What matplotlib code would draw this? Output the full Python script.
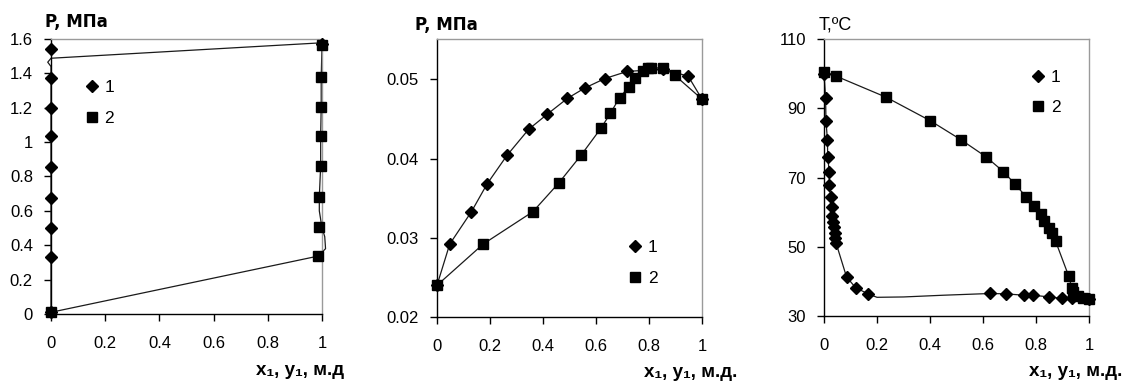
import matplotlib
matplotlib.use("Agg")
import matplotlib.pyplot as plt
from matplotlib.ticker import FormatStrFormatter, FuncFormatter

plt.rcParams['font.family'] = ['Liberation Sans', 'DejaVu Sans']
plt.rcParams['font.size'] = 12

# ---------------- Panel 1 (P, MPa vs x1,y1) ----------------
p1_s1_x = [0, 0, 0, 0, 0, 0, 0, 0, 0, 1.0]
p1_s1_y = [0.01, 0.333, 0.503, 0.677, 0.858, 1.033, 1.201, 1.372, 1.542, 1.572]
p1_s2_x = [0, 0.986, 0.99, 0.99, 0.995, 0.995, 0.995, 0.995, 1.0]
p1_s2_y = [0.01, 0.337, 0.508, 0.683, 0.861, 1.036, 1.206, 1.377, 1.565]
# smoothed curves as drawn
p1_c1_x = [0, 0, -0.012, 0.0, 1.0]
p1_c1_y = [0.01, 1.44, 1.465, 1.488, 1.578]
p1_c2_x = [0, 0.986, 1.013, 1.01, 1.0, 0.99, 0.99, 0.995, 0.995, 0.997, 0.997, 1.0]
p1_c2_y = [0.01, 0.337, 0.38, 0.45, 0.5, 0.6, 0.683, 0.861, 1.036, 1.206, 1.377, 1.565]

# ---------------- Panel 2 ----------------
p2_s1_x = [0, 0.048, 0.130, 0.189, 0.264, 0.346, 0.416, 0.492, 0.557, 0.633, 0.717, 0.854, 0.948, 1.0]
p2_s1_y = [0.0240, 0.0292, 0.0333, 0.0368, 0.0404, 0.0437, 0.0456, 0.0476, 0.0489, 0.0501, 0.0510, 0.0513, 0.0504, 0.0475]
p2_s2_x = [0, 0.174, 0.362, 0.459, 0.543, 0.618, 0.654, 0.689, 0.725, 0.747, 0.776, 0.795, 0.808, 0.853, 0.898, 1.0]
p2_s2_y = [0.0240, 0.0292, 0.0333, 0.0369, 0.0404, 0.0438, 0.0457, 0.0477, 0.0491, 0.0502, 0.0510, 0.0514, 0.0514, 0.0515, 0.0505, 0.0475]

# ---------------- Panel 3 ----------------
p3_s1_x = [0, 0.006, 0.0075, 0.013, 0.014, 0.02, 0.02, 0.025, 0.029, 0.032, 0.035, 0.037, 0.04, 0.042, 0.045,
           0.085, 0.119, 0.166, 0.627, 0.685, 0.755, 0.790, 0.850, 0.897, 0.935, 1.0]
p3_s1_y = [99.9, 93.0, 86.3, 80.8, 76.0, 71.5, 67.8, 64.5, 61.6, 58.9, 57.2, 55.6, 53.9, 52.6, 51.2,
           41.3, 38.2, 36.4, 36.5, 36.4, 36.0, 36.0, 35.5, 35.1, 35.1, 34.9]
p3_s2_x = [0, 0.045, 0.234, 0.401, 0.517, 0.611, 0.677, 0.722, 0.763, 0.792, 0.818, 0.830, 0.849, 0.862, 0.874,
           0.923, 0.935, 0.94, 0.958, 0.978, 1.0]
p3_s2_y = [100.6, 99.3, 93.2, 86.4, 80.9, 76.0, 71.7, 68.0, 64.4, 61.8, 59.4, 57.5, 55.5, 54.0, 51.6,
           41.6, 38.2, 36.8, 35.8, 35.2, 34.9]
p3_c1_x = [0, 0.006, 0.0075, 0.013, 0.014, 0.02, 0.02, 0.025, 0.029, 0.032, 0.035, 0.037, 0.04, 0.042, 0.045,
           0.085, 0.119, 0.166, 0.2, 0.3, 0.45, 0.627, 0.685, 0.755, 0.790, 0.850, 0.897, 0.935, 1.0]
p3_c1_y = [99.9, 93.0, 86.3, 80.8, 76.0, 71.5, 67.8, 64.5, 61.6, 58.9, 57.2, 55.6, 53.9, 52.6, 51.2,
           41.3, 38.2, 36.4, 35.4, 35.5, 36.0, 36.5, 36.4, 36.0, 36.0, 35.5, 35.1, 35.1, 34.9]

legend_labels = ['1', '2']

fig = plt.figure(figsize=(11.26, 3.81), dpi=100)
ax1 = fig.add_axes([0.04529, 0.17585, 0.2407, 0.7218])
ax2 = fig.add_axes([0.3881, 0.16798, 0.23535, 0.72966])
ax3 = fig.add_axes([0.73179, 0.1706, 0.23535, 0.72703])

LC = '#1a1a1a'
LW = 0.9
DMS = 5.9
SMS = 7.0
TITLE_FAM = ['DejaVu Sans']
XL_FAM = ['Liberation Sans', 'DejaVu Sans']
XL_SIZE = 13.5
LEG_KW = dict(loc='upper left', frameon=False, handlelength=0.8, handletextpad=0.35,
              labelspacing=0.9, borderpad=0, borderaxespad=0, fontsize=12.5)


def style(ax):
    for s in ['top', 'right']:
        ax.spines[s].set_color('#9a9a9a')
        ax.spines[s].set_linewidth(1.0)
    for s in ['left', 'bottom']:
        ax.spines[s].set_color('black')
        ax.spines[s].set_linewidth(1.0)
    ax.tick_params(axis='x', direction='out', length=5, width=1, pad=11, labelsize=12, colors='black')
    ax.tick_params(axis='y', direction='out', length=5, width=1, pad=8, labelsize=12, colors='black')


def fmt_g(v, pos):
    return ('%g' % round(v, 6))


# Panel 1
ax1.plot(p1_c1_x, p1_c1_y, color=LC, lw=LW, clip_on=False, zorder=2)
ax1.plot(p1_c2_x, p1_c2_y, color=LC, lw=LW, clip_on=False, zorder=2)
h1, = ax1.plot(p1_s1_x, p1_s1_y, ls='none', marker='D', ms=DMS, color='black', clip_on=False, zorder=3, label=legend_labels[0])
h2, = ax1.plot(p1_s2_x, p1_s2_y, ls='none', marker='s', ms=SMS, color='black', clip_on=False, zorder=3, label=legend_labels[1])
ax1.set_xlim(0, 1)
ax1.set_ylim(0, 1.6)
ax1.set_xticks([0, 0.2, 0.4, 0.6, 0.8, 1.0])
ax1.set_yticks([0, 0.2, 0.4, 0.6, 0.8, 1.0, 1.2, 1.4, 1.6])
ax1.xaxis.set_major_formatter(FuncFormatter(fmt_g))
ax1.yaxis.set_major_formatter(FuncFormatter(fmt_g))
style(ax1)
ax1.legend(handles=[h1, h2], bbox_to_anchor=(0.124, 0.85), **LEG_KW)
ax1.text(-0.022, 1.044, 'P, МПа', transform=ax1.transAxes, fontsize=12, fontweight='bold',
         family=TITLE_FAM, ha='left', va='baseline')
ax1.text(1.081, -0.222, 'x₁, y₁, м.д', transform=ax1.transAxes, fontsize=XL_SIZE, fontweight='bold',
         family=XL_FAM, ha='right', va='baseline')

# Panel 2
ax2.plot(p2_s1_x, p2_s1_y, color=LC, lw=LW, marker='D', ms=DMS, mfc='black', mec='black', clip_on=False, zorder=3)
ax2.plot(p2_s2_x, p2_s2_y, color=LC, lw=LW, marker='s', ms=SMS, mfc='black', mec='black', clip_on=False, zorder=3)
g1, = ax2.plot([], [], ls='none', marker='D', ms=DMS, color='black', label=legend_labels[0])
g2, = ax2.plot([], [], ls='none', marker='s', ms=SMS, color='black', label=legend_labels[1])
ax2.set_xlim(0, 1)
ax2.set_ylim(0.02, 0.0551)
ax2.set_xticks([0, 0.2, 0.4, 0.6, 0.8, 1.0])
ax2.set_yticks([0.02, 0.03, 0.04, 0.05])
ax2.xaxis.set_major_formatter(FuncFormatter(fmt_g))
ax2.yaxis.set_major_formatter(FormatStrFormatter('%.2f'))
style(ax2)
ax2.legend(handles=[g1, g2], bbox_to_anchor=(0.72, 0.276), **LEG_KW)
ax2.text(-0.083, 1.032, 'P, МПа', transform=ax2.transAxes, fontsize=12, fontweight='bold',
         family=TITLE_FAM, ha='left', va='baseline')
ax2.text(1.132, -0.216, 'x₁, y₁, м.д.', transform=ax2.transAxes, fontsize=XL_SIZE, fontweight='bold',
         family=XL_FAM, ha='right', va='baseline')

# Panel 3
ax3.plot(p3_c1_x, p3_c1_y, color=LC, lw=LW, clip_on=False, zorder=2)
ax3.plot(p3_s2_x, p3_s2_y, color=LC, lw=LW, clip_on=False, zorder=2)
k1, = ax3.plot(p3_s1_x, p3_s1_y, ls='none', marker='D', ms=DMS, color='black', clip_on=False, zorder=3, label=legend_labels[0])
k2, = ax3.plot(p3_s2_x, p3_s2_y, ls='none', marker='s', ms=SMS, color='black', clip_on=False, zorder=3, label=legend_labels[1])
ax3.set_xlim(0, 1)
ax3.set_ylim(30, 110)
ax3.set_xticks([0, 0.2, 0.4, 0.6, 0.8, 1.0])
ax3.set_yticks([30, 50, 70, 90, 110])
ax3.xaxis.set_major_formatter(FuncFormatter(fmt_g))
ax3.yaxis.set_major_formatter(FuncFormatter(fmt_g))
style(ax3)
ax3.legend(handles=[k1, k2], bbox_to_anchor=(0.78, 0.89), **LEG_KW)
ax3.text(-0.019, 1.036, 'T,ºC', transform=ax3.transAxes, fontsize=13, ha='left', va='baseline')
ax3.text(1.125, -0.217, 'x₁, y₁, м.д.', transform=ax3.transAxes, fontsize=XL_SIZE, fontweight='bold',
         family=XL_FAM, ha='right', va='baseline')

fig.savefig('out.png', dpi=100)
